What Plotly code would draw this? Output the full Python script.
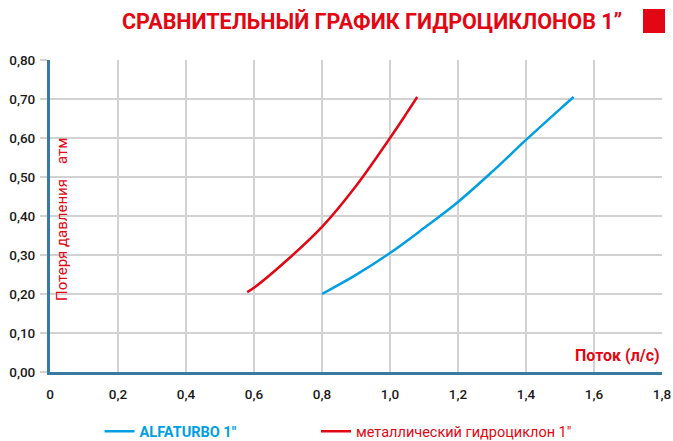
import plotly.graph_objects as go

# Data
alfa_x = [0.80, 0.90, 1.00, 1.10, 1.20, 1.30, 1.40, 1.50, 1.54]
alfa_y = [0.200, 0.249, 0.305, 0.369, 0.436, 0.513, 0.595, 0.674, 0.705]
metal_x = [0.58, 0.60, 0.70, 0.80, 0.90, 1.00, 1.05, 1.08]
metal_y = [0.205, 0.216, 0.289, 0.372, 0.477, 0.600, 0.665, 0.705]
x_ticks = [0, 0.2, 0.4, 0.6, 0.8, 1.0, 1.2, 1.4, 1.6, 1.8]
x_tick_labels = ["0", "0,2", "0,4", "0,6", "0,8", "1,0", "1,2", "1,4", "1,6", "1,8"]
y_ticks = [0, 0.1, 0.2, 0.3, 0.4, 0.5, 0.6, 0.7, 0.8]
y_tick_labels = ["0,00", "0,10", "0,20", "0,30", "0,40", "0,50", "0,60", "0,70", "0,80"]

RED = "#e30613"
BLUE = "#009fe3"
AXIS = "#3a7aa0"
GRID = "#d2d2d2"
FONT = "Roboto"

fig = go.Figure()
fig.add_trace(go.Scatter(
    x=alfa_x, y=alfa_y, mode="lines", legend="legend",
    name="<span style='color:%s'><b>ALFATURBO 1\"</b></span>" % BLUE,
    line=dict(color=BLUE, width=2.5, shape="spline"),
))
fig.add_trace(go.Scatter(
    x=metal_x, y=metal_y, mode="lines", legend="legend2",
    name="<span style='color:%s'>металлический гидроциклон 1\"</span>" % RED,
    line=dict(color=RED, width=2.5, shape="spline"),
))

legend_common = dict(orientation="h", y=-0.19, xanchor="left", yanchor="middle",
                     font=dict(size=14.5, family=FONT), itemwidth=30,
                     bgcolor="rgba(0,0,0,0)")

fig.update_layout(
    width=673, height=441,
    margin=dict(l=50, r=11, t=60, b=69, autoexpand=False),
    paper_bgcolor="white", plot_bgcolor="white",
    font=dict(family=FONT, color="#1a1a1a"),
    showlegend=True,
    legend=dict(x=0.081, **legend_common),
    legend2=dict(x=(316 - 50) / 612, **legend_common),
    annotations=[
        dict(text="СРАВНИТЕЛЬНЫЙ ГРАФИК ГИДРОЦИКЛОНОВ 1”", xref="paper", yref="paper",
             x=(372 - 50) / 612, y=(372 - 21) / 312, xanchor="center", yanchor="middle",
             showarrow=False, font=dict(size=21.5, color=RED, family=FONT, weight="bold")),
        dict(text="Потеря давления    атм", xref="paper", yref="paper",
             x=(62 - 50) / 612, y=(372 - 220) / 312, xanchor="center", yanchor="middle",
             textangle=-90, showarrow=False, font=dict(size=15, color=RED, family=FONT)),
        dict(text="Поток (л/с)", xref="paper", yref="paper",
             x=1.0, y=(372 - 355) / 312, xanchor="right", yanchor="middle",
             showarrow=False, font=dict(size=16, color=RED, family=FONT, weight="bold")),
    ],
    shapes=[
        dict(type="rect", xref="paper", yref="paper",
             x0=(643 - 50) / 612, x1=(665 - 50) / 612,
             y0=(372 - 9) / 312, y1=(372 - 33) / 312,
             fillcolor=RED, line=dict(width=0)),
    ],
)

fig.update_xaxes(
    range=[0, 1.8], tickvals=x_ticks, ticktext=x_tick_labels,
    showgrid=True, gridcolor=GRID, gridwidth=1.5,
    showline=True, linecolor=AXIS, linewidth=3,
    zeroline=False, ticks="", ticklabelstandoff=8, automargin=False,
    tickfont=dict(size=13.5, color="#1a1a1a", weight=500),
)
fig.update_yaxes(
    range=[0, 0.8], tickvals=y_ticks, ticktext=y_tick_labels,
    showgrid=True, gridcolor=GRID, gridwidth=1.5,
    showline=True, linecolor=AXIS, linewidth=3,
    zeroline=False, ticks="outside", ticklen=7, tickcolor=GRID, tickwidth=1.5,
    ticklabelstandoff=2, automargin=False,
    tickfont=dict(size=13.5, color="#1a1a1a", weight=500),
)

# the page body has a default 8px margin; remove it so the figure fills the window
fig.write_html("out.html", config={"displayModeBar": False},
               post_script="document.body.style.margin='0';")
